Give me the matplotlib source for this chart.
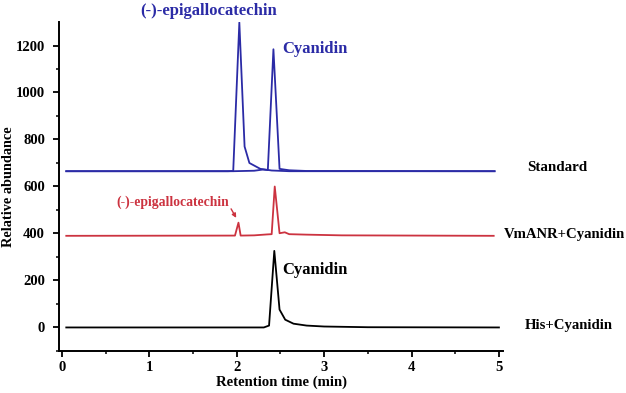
import numpy as np
import matplotlib.pyplot as plt

plt.rcParams['font.family'] = ['Liberation Serif', 'DejaVu Serif']
plt.rcParams['font.weight'] = 'bold'

# Standard: two overlaid standard runs (EGC and cyanidin), offset to 665
std_egc_t = [0.05, 1.90, 1.96, 2.03, 2.09, 2.145, 2.27, 2.40, 2.60, 4.95]
std_egc_y = [665, 665, 666, 1298, 770, 700, 675, 668, 665, 665]
std_cya_t = [0.05, 1.96, 2.20, 2.30, 2.356, 2.42, 2.49, 2.60, 2.80, 4.95]
std_cya_y = [665, 665, 667, 672, 670, 1184, 675, 669, 666, 665]

# VmANR + Cyanidin (offset ~390)
vm_t = [0.05, 1.98, 2.02, 2.045, 2.20, 2.35, 2.40, 2.435, 2.49, 2.55, 2.60, 2.80, 3.20, 4.94]
vm_y = [390, 391, 446, 391, 392, 396, 397, 600, 401, 405, 397, 395, 392, 390]

# His + Cyanidin
his_t = [0.05, 2.31, 2.37, 2.43, 2.49, 2.555, 2.65, 2.80, 3.00, 3.50, 5.00]
his_y = [0, 0, 8, 326, 76, 33, 16, 8, 4, 1, 0]

blue = '#2b2ba6'
red = '#cc3340'

fig = plt.figure(figsize=(6.26, 3.93), dpi=100)
ax = fig.add_axes([0.094, 0.107, 0.71, 0.837])

ax.plot(std_egc_t, std_egc_y, color=blue, lw=1.3)
ax.plot(std_cya_t, std_cya_y, color=blue, lw=1.3)
ax.plot(vm_t, vm_y, color=red, lw=1.3)
ax.plot(his_t, his_y, color='black', lw=1.3)

ax.set_xlim(-0.035, 5.05)
ax.set_ylim(-100, 1300)
ax.set_xticks([0, 1, 2, 3, 4, 5])
ax.set_xticks([0.5, 1.5, 2.5, 3.5, 4.5], minor=True)
ax.set_yticks([0, 200, 400, 600, 800, 1000, 1200])
ax.set_yticks(np.arange(-100, 1300, 200), minor=True)
ax.spines['top'].set_visible(False)
ax.spines['right'].set_visible(False)
ax.spines['left'].set_linewidth(1.4)
ax.spines['bottom'].set_linewidth(1.4)
ax.tick_params(which='major', length=4, width=1.3, labelsize=10.5)
ax.tick_params(which='minor', length=2.5, width=1.1)
ax.tick_params(axis='y', pad=6)
for lab in ax.get_xticklabels() + ax.get_yticklabels():
    lab.set_fontweight('bold')

ax.set_xlabel('Retention time (min)', fontsize=10.6, fontweight='bold', labelpad=1)
ax.set_ylabel('Relative abundance', fontsize=10.3, fontweight='bold')
ax.yaxis.set_label_coords(-0.099, 0.5)

ax.text(1.68, 1345, '(-)-epigallocatechin', color=blue, fontsize=12,
        fontweight='bold', ha='center', va='center', clip_on=False)
ax.text(2.52, 1183, 'Cyanidin', color=blue, fontsize=12, fontweight='bold',
        ha='left', va='center')
ax.text(1.27, 534, '(-)-epigallocatechin', color=red, fontsize=9.8,
        fontweight='bold', ha='center', va='center')
ax.annotate('', xy=(2.01, 456), xytext=(1.92, 515),
            arrowprops=dict(arrowstyle='-|>', color=red, lw=1.0,
                            mutation_scale=6))
ax.text(2.52, 245, 'Cyanidin', color='black', fontsize=12, fontweight='bold',
        ha='left', va='center')

ax.text(5.32, 680, 'Standard', fontsize=10.8, fontweight='bold',
        ha='left', va='center', clip_on=False)
ax.text(5.06, 397, 'VmANR+Cyanidin', fontsize=10.6, fontweight='bold',
        ha='left', va='center', clip_on=False)
ax.text(5.30, 10, 'His+Cyanidin', fontsize=10.6, fontweight='bold',
        ha='left', va='center', clip_on=False)

fig.savefig('out.png', dpi=100)
